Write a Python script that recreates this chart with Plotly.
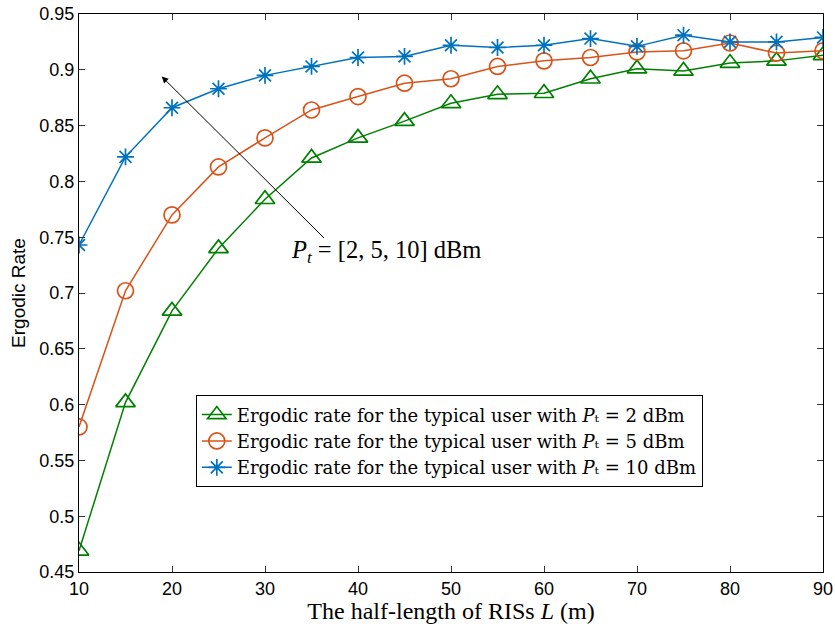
import plotly.graph_objects as go

L = [10, 15, 20, 25, 30, 35, 40, 45, 50, 55, 60, 65, 70, 75, 80, 85, 90]
rate_2dBm = [0.469, 0.602, 0.684, 0.740, 0.784, 0.821, 0.839, 0.854, 0.870, 0.878, 0.879,
             0.892, 0.901, 0.899, 0.906, 0.908, 0.913]
rate_5dBm = [0.580, 0.702, 0.770, 0.813, 0.839, 0.864, 0.876, 0.888, 0.892, 0.903, 0.908,
             0.911, 0.916, 0.917, 0.924, 0.915, 0.917]
rate_10dBm = [0.743, 0.822, 0.866, 0.883, 0.895, 0.903, 0.911, 0.912, 0.922, 0.920, 0.922,
              0.928, 0.921, 0.931, 0.925, 0.925, 0.929]
y_ticks = [0.45, 0.5, 0.55, 0.6, 0.65, 0.7, 0.75, 0.8, 0.85, 0.9, 0.95]
y_tick_text = ["0.45", "0.5", "0.55", "0.6", "0.65", "0.7", "0.75", "0.8", "0.85", "0.9", "0.95"]
x_ticks = [10, 20, 30, 40, 50, 60, 70, 80, 90]

SERIF = "Liberation Serif, Times New Roman, serif"
WIDE_SERIF = "DejaVu Serif, serif"
SANS = "Liberation Sans, Arial, sans-serif"

fig = go.Figure()
series = [
    (rate_2dBm, "#008000", "triangle-up-open", 17, "Ergodic rate for the typical user with <i>P</i>\u209c = 2 dBm"),
    (rate_5dBm, "#D95319", "circle-open", 16, "Ergodic rate for the typical user with <i>P</i>\u209c = 5 dBm"),
    (rate_10dBm, "#0072BD", "asterisk-open", 14, "Ergodic rate for the typical user with <i>P</i>\u209c = 10 dBm"),
]
for ys, col, sym, sz, name in series:
    fig.add_trace(go.Scatter(
        x=L, y=ys, mode="lines+markers", name=name,
        line=dict(color=col, width=1.5),
        marker=dict(symbol=sym, size=sz, color=col, line=dict(color=col, width=1.7)),
    ))

fig.add_annotation(
    x=18.9, y=0.894, ax=36.5, ay=0.748, xref="x", yref="y", axref="x", ayref="y",
    text="", showarrow=True, arrowhead=2, arrowsize=1.3, arrowwidth=1, arrowcolor="black",
)
fig.add_annotation(
    x=32.6, y=0.737, xref="x", yref="y", xanchor="left", yanchor="middle",
    text="<i>P</i><sub><i>t</i></sub> = [2, 5, 10] dBm", showarrow=False,
    font=dict(family=SERIF, size=24.5, color="black"),
)

fig.update_layout(
    width=835, height=624,
    margin=dict(l=79, r=12, t=14, b=52),
    paper_bgcolor="white", plot_bgcolor="white",
    showlegend=True,
    legend=dict(
        x=0.157, y=0.3166, xanchor="left", yanchor="top",
        bordercolor="black", borderwidth=1, bgcolor="white",
        font=dict(family=WIDE_SERIF, size=18, color="black"),
        tracegroupgap=0, itemwidth=30,
    ),
    xaxis=dict(
        range=[10, 90], tickvals=x_ticks, ticks="inside", ticklen=6, tickcolor="#333",
        showline=True, linecolor="black", linewidth=1.3, mirror="ticks", showgrid=False,
        zeroline=False, automargin=False, tickfont=dict(family=SANS, size=18, color="black"),
        title=dict(text="The half-length of RISs <i>L</i> (m)", standoff=0,
                   font=dict(family=SERIF, size=24, color="black")),
    ),
    yaxis=dict(
        range=[0.45, 0.95], tickvals=y_ticks, ticktext=y_tick_text, ticks="inside", ticklen=6,
        tickcolor="#333", showline=True, linecolor="black", linewidth=1.3, mirror="ticks",
        showgrid=False, zeroline=False, automargin=False,
        tickfont=dict(family=SANS, size=18, color="black"),
        title=dict(text="Ergodic Rate", standoff=8, font=dict(family=SANS, size=19, color="black")),
    ),
)

fig.write_html("out.html")
